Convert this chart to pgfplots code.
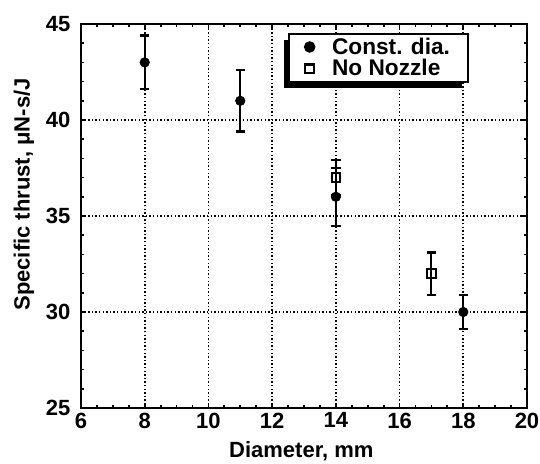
\documentclass[border=0pt]{standalone}
\usepackage{fontspec}
\setmainfont{Liberation Sans}
\usepackage{pgfplots}
\pgfplotsset{compat=1.18}
\usetikzlibrary{shadows}
\begin{document}
\begin{tikzpicture}
\useasboundingbox (-60.75pt,-42pt) rectangle (344.25pt,306pt);
\begin{axis}[
  at={(0pt,0pt)}, anchor=south west,
  scale only axis,
  width=334.5pt, height=288pt,
  xmin=6, xmax=20, ymin=25, ymax=45,
  xtick={6,8,...,20}, ytick={25,30,...,45},
  minor x tick num=3, minor y tick num=4,
  tick align=inside,
  major tick length=3.5pt, minor tick length=2.5pt,
  every tick/.style={line width=1.3pt, black},
  axis line style={line width=1.8pt},
  grid=major,
  major grid style={line width=1.3pt, black, dash pattern=on 1.1pt off 1.6pt},
  /pgf/number format/assume math mode=true,
  tick label style={font=\fontsize{16.5}{19}\selectfont\bfseries},
  yticklabel style={xshift=-4.5pt},
  label style={font=\fontsize{16.5}{19}\selectfont\bfseries},
  xlabel={Diameter, mm},
  ylabel={Specific thrust, μN-s/J},
  xlabel style={at={(axis description cs:0.494,0)}, anchor=center, yshift=-32.25pt},
  ylabel style={at={(axis description cs:-0.1278,0.556)}, anchor=center},
  legend style={at={(0.464,0.977)}, anchor=north west,
    draw=black, line width=1.4pt, fill=white,
    font=\fontsize{17}{19}\selectfont\bfseries,
    inner xsep=12pt, inner ysep=3pt, row sep=2.5pt,
    nodes={inner xsep=1.2pt, inner ysep=0pt},
    /tikz/every odd column/.append style={column sep=12pt},
    drop shadow={shadow xshift=-4pt, shadow yshift=-4.5pt, opacity=1, fill=black}},
  legend cell align=left,
]
\addplot[only marks, mark=*, mark size=3.6pt, black,
  error bars/.cd, y dir=both, y explicit,
  error bar style={line width=1.6pt},
  error mark options={rotate=90, mark size=3.5pt, line width=1.6pt}]
  coordinates {
  (8,43.0) +- (0,1.4)
  (11,41.0) +- (0,1.6)
  (14,36.0) +- (0,1.5)
  (18,30.0) +- (0,0.9)
};
\addlegendentry{Const. dia.}
\addplot[only marks, mark=square, mark size=3.2pt, black, mark options={line width=1.6pt, fill=white},
  error bars/.cd, y dir=both, y explicit,
  error bar style={line width=1.6pt},
  error mark options={rotate=90, mark size=3.5pt, line width=1.6pt}]
  coordinates {
  (14,37.0) +- (0,0.9)
  (17,32.0) +- (0,1.1)
};
\addlegendentry{No Nozzle}
\end{axis}
\end{tikzpicture}
\end{document}
